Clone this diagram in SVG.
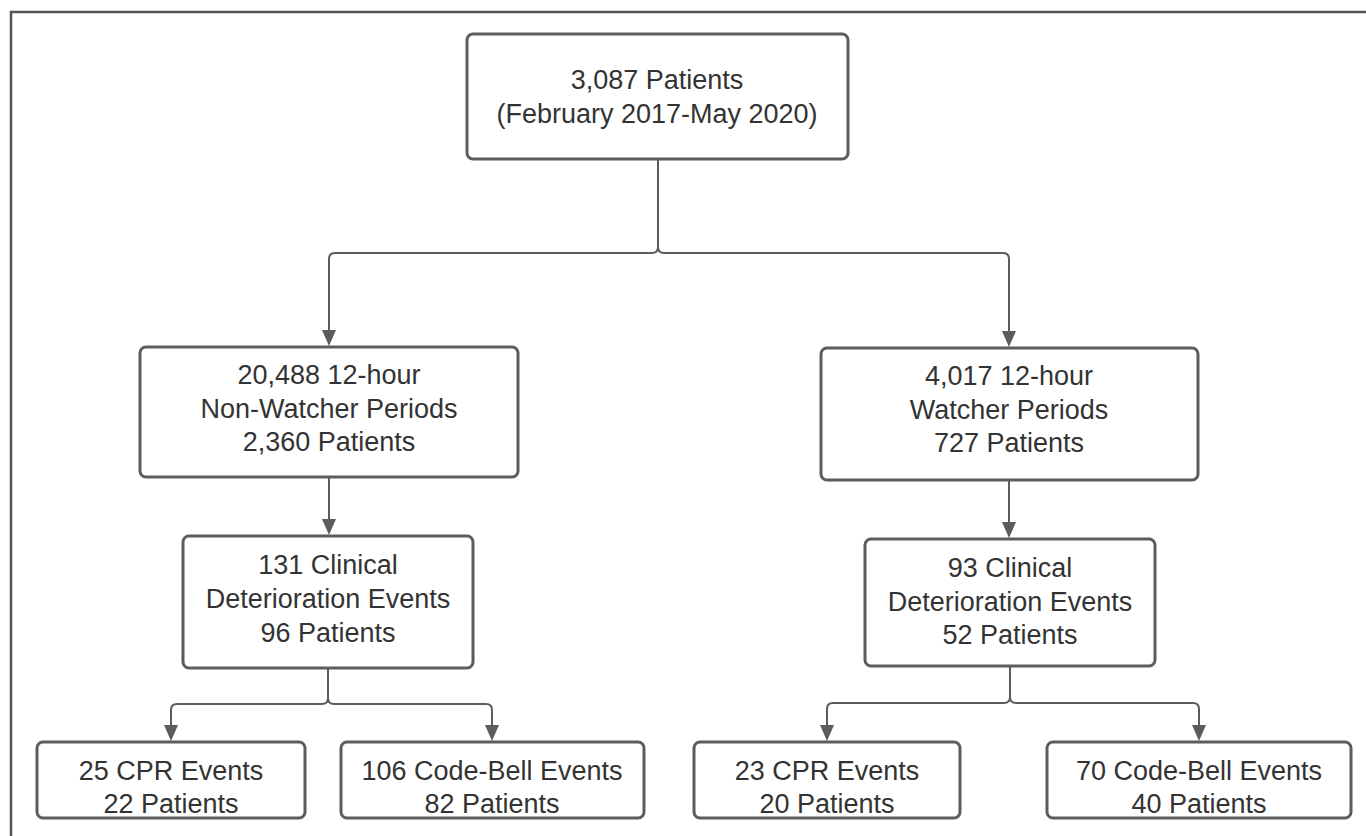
<svg xmlns="http://www.w3.org/2000/svg" width="1366" height="836" viewBox="0 0 1366 836">
<defs>
<style>
.box{fill:#ffffff;stroke:#5c5c5c;stroke-width:3}
.t{font-family:"Liberation Sans",Arial,sans-serif;font-size:27px;fill:#333333;text-anchor:middle}
.c{fill:none;stroke:#5c5c5c;stroke-width:2}
</style>
<marker id="arr" markerUnits="userSpaceOnUse" markerWidth="16" markerHeight="18" refX="7" refY="16" orient="auto-start-reverse" viewBox="0 0 14 18">
<path d="M0,0 L14,0 L7,16 Z" fill="#5c5c5c" transform="rotate(0)"/>
</marker>
</defs>
<rect width="1366" height="836" fill="#ffffff"/>
<path d="M11,836 V12 H1366" fill="none" stroke="#555555" stroke-width="2.5"/>
<g id="connectors">
<path class="c" d="M658,160 V247 Q658,253 652,253 H335 Q329,253 329,259 V330"/>
<path class="c" d="M658,247 Q658,253 664,253 H1003 Q1009,253 1009,259 V331"/>
<path d="M322,330 L336,330 L329,346 Z" fill="#5c5c5c"/>
<path d="M1002,331 L1016,331 L1009,347 Z" fill="#5c5c5c"/>
<path class="c" d="M329,478 V520"/>
<path d="M322,519 L336,519 L329,535 Z" fill="#5c5c5c"/>
<path class="c" d="M1009,481 V523"/>
<path d="M1002,522 L1016,522 L1009,538 Z" fill="#5c5c5c"/>
<path class="c" d="M328,668 V698 Q328,704 322,704 H177 Q171,704 171,710 V726"/>
<path class="c" d="M328,698 Q328,704 334,704 H486 Q492,704 492,710 V726"/>
<path d="M164,725 L178,725 L171,741 Z" fill="#5c5c5c"/>
<path d="M485,725 L499,725 L492,741 Z" fill="#5c5c5c"/>
<path class="c" d="M1010,666 V697 Q1010,703 1004,703 H833 Q827,703 827,709 V726"/>
<path class="c" d="M1010,697 Q1010,703 1016,703 H1193 Q1199,703 1199,709 V726"/>
<path d="M820,725 L834,725 L827,741 Z" fill="#5c5c5c"/>
<path d="M1192,725 L1206,725 L1199,741 Z" fill="#5c5c5c"/>
</g>
<g id="n-top">
<rect class="box" x="467" y="34" width="381" height="125" rx="6"/>
<text class="t" x="657" y="89">3,087 Patients</text>
<text class="t" x="657" y="123">(February 2017-May 2020)</text>
</g>
<g id="n-nonwatcher">
<rect class="box" x="140" y="347" width="378" height="130" rx="6"/>
<text class="t" x="329" y="384">20,488 12-hour</text>
<text class="t" x="329" y="418">Non-Watcher Periods</text>
<text class="t" x="329" y="451">2,360 Patients</text>
</g>
<g id="n-watcher">
<rect class="box" x="821" y="348" width="377" height="132" rx="6"/>
<text class="t" x="1009" y="385">4,017 12-hour</text>
<text class="t" x="1009" y="419">Watcher Periods</text>
<text class="t" x="1009" y="452">727 Patients</text>
</g>
<g id="n-left-clinical">
<rect class="box" x="183" y="536" width="290" height="132" rx="6"/>
<text class="t" x="328" y="574">131 Clinical</text>
<text class="t" x="328" y="608">Deterioration Events</text>
<text class="t" x="328" y="642">96 Patients</text>
</g>
<g id="n-right-clinical">
<rect class="box" x="865" y="539" width="290" height="127" rx="6"/>
<text class="t" x="1010" y="577">93 Clinical</text>
<text class="t" x="1010" y="611">Deterioration Events</text>
<text class="t" x="1010" y="644">52 Patients</text>
</g>
<g id="n-left-cpr">
<rect class="box" x="37" y="742" width="268" height="76" rx="6"/>
<text class="t" x="171" y="780">25 CPR Events</text>
<text class="t" x="171" y="813">22 Patients</text>
</g>
<g id="n-left-codebell">
<rect class="box" x="341" y="742" width="303" height="76" rx="6"/>
<text class="t" x="492" y="780">106 Code-Bell Events</text>
<text class="t" x="492" y="813">82 Patients</text>
</g>
<g id="n-right-cpr">
<rect class="box" x="694" y="742" width="266" height="76" rx="6"/>
<text class="t" x="827" y="780">23 CPR Events</text>
<text class="t" x="827" y="813">20 Patients</text>
</g>
<g id="n-right-codebell">
<rect class="box" x="1047" y="742" width="304" height="76" rx="6"/>
<text class="t" x="1199" y="780">70 Code-Bell Events</text>
<text class="t" x="1199" y="813">40 Patients</text>
</g>
</svg>
